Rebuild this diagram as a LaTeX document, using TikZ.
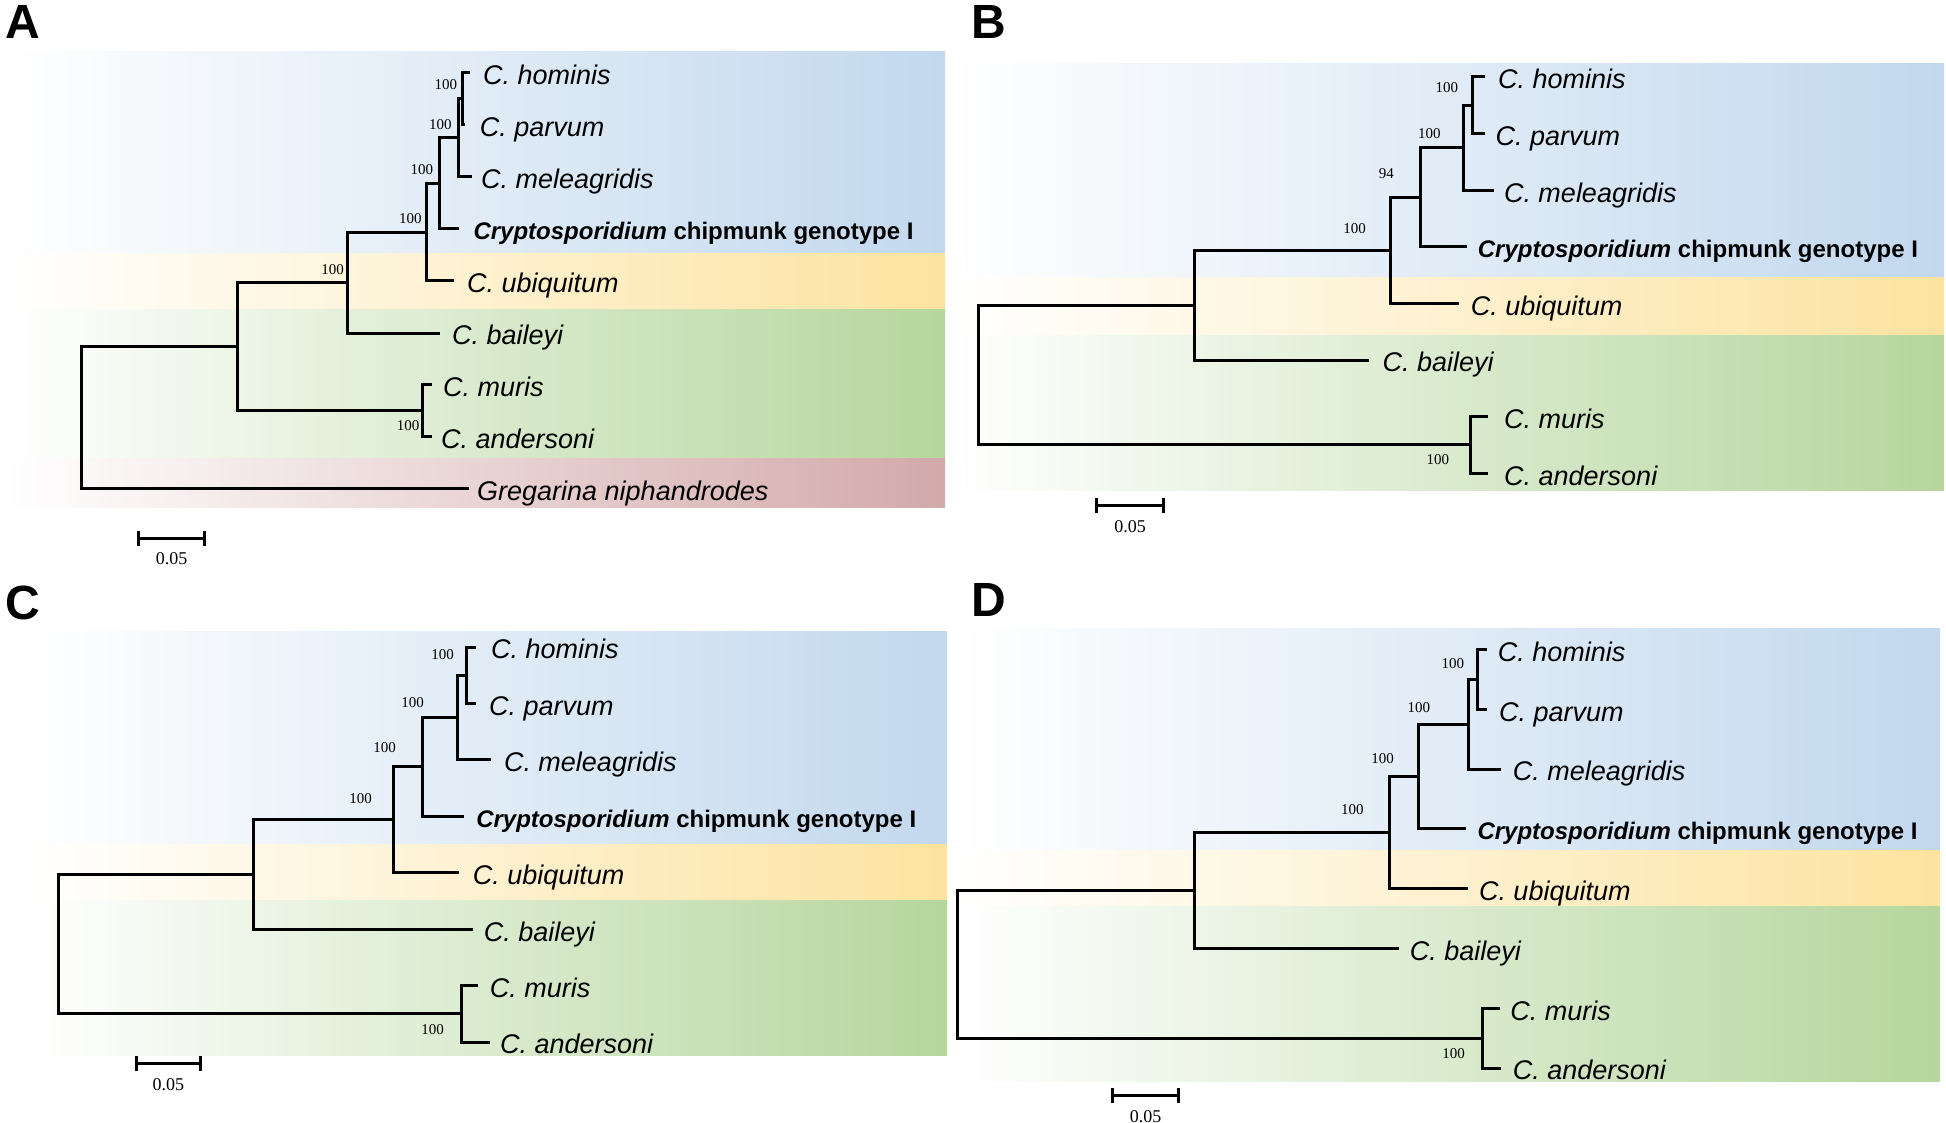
\documentclass[tikz,border=0pt]{standalone}
\usepackage{fontspec}
\setmainfont{Liberation Sans}
\newfontfamily\bootfont{Liberation Serif}
\usetikzlibrary{positioning,arrows.meta}

\definecolor{bandblue}{RGB}{194,216,238}
\definecolor{bandyellow}{RGB}{253,227,160}
\definecolor{bandgreen}{RGB}{181,214,157}
\definecolor{bandpink}{RGB}{211,169,170}

\tikzset{
  band/.style={left color=white, right color=#1},
  branch/.style={line width=3pt},
  scalebar/.style={line width=3pt, {Bar[width=15pt]}-{Bar[width=15pt]}},
  panellab/.style={anchor=base west, inner sep=0pt, font=\fontsize{48}{56}\selectfont\bfseries},
  taxon/.style={inner sep=0pt, yshift=-2.3pt, text height=19.3pt, text depth=0pt, font=\fontsize{27}{31}\selectfont\itshape},
  taxonb/.style={inner sep=0pt, yshift=-2.3pt, text height=17.2pt, text depth=0pt, font=\fontsize{24}{29}\selectfont\bfseries},
  boot/.style={inner sep=0pt, font=\bootfont\fontsize{15}{18}\selectfont},
  scalelab/.style={below=13pt, inner sep=0pt, font=\bootfont\fontsize{18}{21}\selectfont}
}

\begin{document}
\begin{tikzpicture}[x=1pt, y=-1pt]
    \useasboundingbox (0,0) rectangle (1946,1123);
    \fill[white] (0,0) rectangle (1946,1123);

    % draw coloured bands
    \fill[band=bandblue]   (5,52)      rectangle (945,253.3);
    \fill[band=bandyellow] (5,253.3)   rectangle (945,309.3);
    \fill[band=bandgreen]  (5,309.3)   rectangle (945,458.5);
    \fill[band=bandpink]   (5,458.5)   rectangle (945,507);

    \fill[band=bandblue]   (950,64)    rectangle (1944,277.3);
    \fill[band=bandyellow] (950,277.3) rectangle (1944,335);
    \fill[band=bandgreen]  (950,335)   rectangle (1944,490.7);

    \fill[band=bandblue]   (27,631.5)  rectangle (947,844);
    \fill[band=bandyellow] (27,844)    rectangle (947,900.3);
    \fill[band=bandgreen]  (27,900.3)  rectangle (947,1055);

    \fill[band=bandblue]   (957,628.2) rectangle (1940,850.4);
    \fill[band=bandyellow] (957,850.4) rectangle (1940,906.9);
    \fill[band=bandgreen]  (957,906.9) rectangle (1940,1081.5);

    % panel A
    \node[panellab] (labA) at (5,39) {A};

    \coordinate (tA1) at (470,73);
    \coordinate (tA2) at (465,125);
    \coordinate (tA3) at (471.7,177);
    \coordinate (tA4) at (459.3,229);
    \coordinate (tA5) at (454.4,281);
    \coordinate (tA6) at (439.7,333);
    \coordinate (tA7) at (431.7,384.5);
    \coordinate (tA8) at (431.7,436.5);
    \coordinate (tA9) at (468.5,488.5);

    \coordinate (nA6) at (462,99);
    \coordinate (nA5) at (458.3,138);
    \coordinate (nA4) at (439.5,183.5);
    \coordinate (nA3) at (426.8,232.2);
    \coordinate (nA2) at (347.8,282.6);
    \coordinate (nAma) at (422.5,410.5);
    \coordinate (nA1) at (237,346.5);
    \coordinate (rA) at (81.7,417.5);

    % draw branches
    \draw[branch] (tA1) -| (nA6) |- (tA2);
    \draw[branch] (nA6) -| (nA5) |- (tA3);
    \draw[branch] (nA5) -| (nA4) |- (tA4);
    \draw[branch] (nA4) -| (nA3) |- (tA5);
    \draw[branch] (nA3) -| (nA2) |- (tA6);
    \draw[branch] (tA7) -| (nAma) |- (tA8);
    \draw[branch] (nA2) -| (nA1) |- (nAma);
    \draw[branch] (nA1) -| (rA) |- (tA9);

    % draw taxa
    \node[taxon, right=13pt of tA1] (homA) {C. hominis};
    \node[taxon, right=14.7pt of tA2] (parA) {C. parvum};
    \node[taxon, right=9.3pt of tA3] (melA) {C. meleagridis};
    \node[taxonb, right=14pt of tA4] (chiA) {\textit{Cryptosporidium} chipmunk genotype I};
    \node[taxon, right=12.6pt of tA5] (ubiA) {C. ubiquitum};
    \node[taxon, right=12.3pt of tA6] (baiA) {C. baileyi};
    \node[taxon, right=11.3pt of tA7] (murA) {C. muris};
    \node[taxon, right=9.3pt of tA8] (andA) {C. andersoni};
    \node[taxon, right=8.5pt of tA9] (greA) {Gregarina niphandrodes};

    % draw bootstrap values
    \node[boot, above left=9pt and 4.7pt of nA6] (bA6) {100};
    \node[boot, above left=8pt and 6.6pt of nA5] (bA5) {100};
    \node[boot, above left=8.5pt and 6.2pt of nA4] (bA4) {100};
    \node[boot, above left=8pt and 5pt of nA3] (bA3) {100};
    \node[boot, above left=8pt and 3.8pt of nA2] (bA2) {100};
    \node[boot, below left=9.5pt and 3pt of nAma] (bAma) {100};

    % draw scale bar
    \coordinate (sA1) at (137.3,538.3);
    \coordinate (sA2) at (205.7,538.3);
    \draw[scalebar] (sA1) -- node[scalelab] (sclA) {0.05} (sA2);

    % panel B
    \node[panellab] (labB) at (971,39) {B};

    \coordinate (tB1) at (1485,77);
    \coordinate (tB2) at (1485,133.6);
    \coordinate (tB3) at (1494,190.2);
    \coordinate (tB4) at (1466.7,246.8);
    \coordinate (tB5) at (1458.7,303.4);
    \coordinate (tB6) at (1368.8,360);
    \coordinate (tB7) at (1488,416.6);
    \coordinate (tB8) at (1488,473.2);

    \coordinate (nB6) at (1472.3,105.3);
    \coordinate (nB5) at (1463.3,147.8);
    \coordinate (nB4) at (1420,197.3);
    \coordinate (nB3) at (1390,250.4);
    \coordinate (nB2) at (1194.3,305.2);
    \coordinate (nBma) at (1470.7,444.9);
    \coordinate (rB) at (978.3,375);

    % draw branches
    \draw[branch] (tB1) -| (nB6) |- (tB2);
    \draw[branch] (nB6) -| (nB5) |- (tB3);
    \draw[branch] (nB5) -| (nB4) |- (tB4);
    \draw[branch] (nB4) -| (nB3) |- (tB5);
    \draw[branch] (nB3) -| (nB2) |- (tB6);
    \draw[branch] (tB7) -| (nBma) |- (tB8);
    \draw[branch] (nB2) -| (rB) |- (nBma);

    % draw taxa
    \node[taxon, right=13pt of tB1] (homB) {C. hominis};
    \node[taxon, right=10.5pt of tB2] (parB) {C. parvum};
    \node[taxon, right=9.8pt of tB3] (melB) {C. meleagridis};
    \node[taxonb, right=11pt of tB4] (chiB) {\textit{Cryptosporidium} chipmunk genotype I};
    \node[taxon, right=12pt of tB5] (ubiB) {C. ubiquitum};
    \node[taxon, right=13.7pt of tB6] (baiB) {C. baileyi};
    \node[taxon, right=16pt of tB7] (murB) {C. muris};
    \node[taxon, right=16pt of tB8] (andB) {C. andersoni};

    % draw bootstrap values
    \node[boot, above left=12pt and 14pt of nB6] (bB6) {100};
    \node[boot, above left=8.5pt and 22.6pt of nB5] (bB5) {100};
    \node[boot, above left=18pt and 26pt of nB4] (bB4) {94};
    \node[boot, above left=17pt and 24pt of nB3] (bB3) {100};
    \node[boot, below left=9.7pt and 21.4pt of nBma] (bBma) {100};

    % draw scale bar
    \coordinate (sB1) at (1095,505.7);
    \coordinate (sB2) at (1165,505.7);
    \draw[scalebar] (sB1) -- node[scalelab] (sclB) {0.05} (sB2);

    % panel C
    \node[panellab] (labC) at (5,619) {C};

    \coordinate (tC1) at (476.4,647);
    \coordinate (tC2) at (476.4,703.4);
    \coordinate (tC3) at (491,759.9);
    \coordinate (tC4) at (463.6,816.3);
    \coordinate (tC5) at (459.3,872.7);
    \coordinate (tC6) at (473.4,929.2);
    \coordinate (tC7) at (477.6,985.6);
    \coordinate (tC8) at (490,1042);

    \coordinate (nC6) at (466.6,675.2);
    \coordinate (nC5) at (457.4,717.6);
    \coordinate (nC4) at (422.5,766.9);
    \coordinate (nC3) at (393,819.8);
    \coordinate (nC2) at (253,874.5);
    \coordinate (nCma) at (461,1013.8);
    \coordinate (rC) at (58.2,944.2);

    % draw branches
    \draw[branch] (tC1) -| (nC6) |- (tC2);
    \draw[branch] (nC6) -| (nC5) |- (tC3);
    \draw[branch] (nC5) -| (nC4) |- (tC4);
    \draw[branch] (nC4) -| (nC3) |- (tC5);
    \draw[branch] (nC3) -| (nC2) |- (tC6);
    \draw[branch] (tC7) -| (nCma) |- (tC8);
    \draw[branch] (nC2) -| (rC) |- (nCma);

    % draw taxa
    \node[taxon, right=14.6pt of tC1] (homC) {C. hominis};
    \node[taxon, right=12.6pt of tC2] (parC) {C. parvum};
    \node[taxon, right=12.8pt of tC3] (melC) {C. meleagridis};
    \node[taxonb, right=12.5pt of tC4] (chiC) {\textit{Cryptosporidium} chipmunk genotype I};
    \node[taxon, right=13.3pt of tC5] (ubiC) {C. ubiquitum};
    \node[taxon, right=10.2pt of tC6] (baiC) {C. baileyi};
    \node[taxon, right=12pt of tC7] (murC) {C. muris};
    \node[taxon, right=10pt of tC8] (andC) {C. andersoni};

    % draw bootstrap values
    \node[boot, above left=15.5pt and 12.6pt of nC6] (bC6) {100};
    \node[boot, above left=9.3pt and 33.4pt of nC5] (bC5) {100};
    \node[boot, above left=14pt and 26.5pt of nC4] (bC4) {100};
    \node[boot, above left=16pt and 21pt of nC3] (bC3) {100};
    \node[boot, below left=10.8pt and 17pt of nCma] (bCma) {100};

    % draw scale bar
    \coordinate (sC1) at (134.7,1063.8);
    \coordinate (sC2) at (202,1063.8);
    \draw[scalebar] (sC1) -- node[scalelab] (sclC) {0.05} (sC2);

    % panel D
    \node[panellab] (labD) at (971,616) {D};

    \coordinate (tD1) at (1487,649.4);
    \coordinate (tD2) at (1487,709.2);
    \coordinate (tD3) at (1501,769);
    \coordinate (tD4) at (1466.3,828.8);
    \coordinate (tD5) at (1468,888.6);
    \coordinate (tD6) at (1399,948.4);
    \coordinate (tD7) at (1499.6,1008.2);
    \coordinate (tD8) at (1501,1068);

    \coordinate (nD6) at (1477,679.3);
    \coordinate (nD5) at (1468,724.2);
    \coordinate (nD4) at (1418,776.5);
    \coordinate (nD3) at (1389,832.6);
    \coordinate (nD2) at (1194,890.5);
    \coordinate (nDma) at (1482,1038.1);
    \coordinate (rD) at (957.5,964.3);

    % draw branches
    \draw[branch] (tD1) -| (nD6) |- (tD2);
    \draw[branch] (nD6) -| (nD5) |- (tD3);
    \draw[branch] (nD5) -| (nD4) |- (tD4);
    \draw[branch] (nD4) -| (nD3) |- (tD5);
    \draw[branch] (nD3) -| (nD2) |- (tD6);
    \draw[branch] (tD7) -| (nDma) |- (tD8);
    \draw[branch] (nD2) -| (rD) |- (nDma);

    % draw taxa
    \node[taxon, right=10.6pt of tD1] (homD) {C. hominis};
    \node[taxon, right=12pt of tD2] (parD) {C. parvum};
    \node[taxon, right=11.7pt of tD3] (melD) {C. meleagridis};
    \node[taxonb, right=11pt of tD4] (chiD) {\textit{Cryptosporidium} chipmunk genotype I};
    \node[taxon, right=10.8pt of tD5] (ubiD) {C. ubiquitum};
    \node[taxon, right=10.6pt of tD6] (baiD) {C. baileyi};
    \node[taxon, right=10.6pt of tD7] (murD) {C. muris};
    \node[taxon, right=11.7pt of tD8] (andD) {C. andersoni};

    % draw bootstrap values
    \node[boot, above left=10.8pt and 12.6pt of nD6] (bD6) {100};
    \node[boot, above left=10.9pt and 37.6pt of nD5] (bD5) {100};
    \node[boot, above left=12.8pt and 24pt of nD4] (bD4) {100};
    \node[boot, above left=17.6pt and 25.2pt of nD3] (bD3) {100};
    \node[boot, below left=10pt and 17pt of nDma] (bDma) {100};

    % draw scale bar
    \coordinate (sD1) at (1111,1095.6);
    \coordinate (sD2) at (1180,1095.6);
    \draw[scalebar] (sD1) -- node[scalelab] (sclD) {0.05} (sD2);

\end{tikzpicture}
\end{document}
